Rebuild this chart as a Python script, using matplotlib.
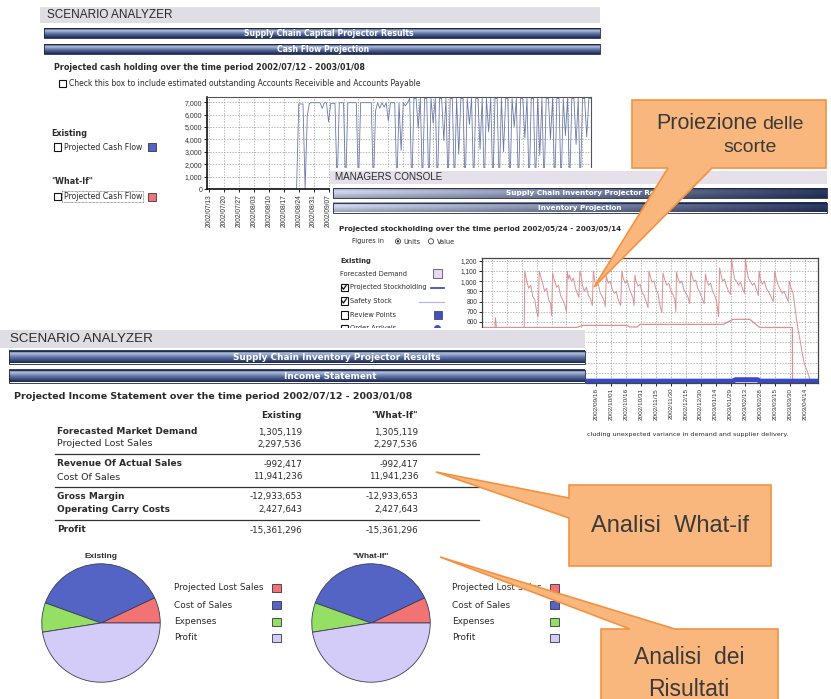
import numpy as np
import matplotlib.pyplot as plt
from matplotlib.patches import Rectangle, Polygon, Circle

W, H = 831, 699

# --- dati ---
# cash flow giornaliero dal 2002/07/12 (giorno 0)
cash_values = [0, 0, 0, 0, 0, 0, 0, 0, 0, 0, 0, 0, 0, 0, 0, 0, 0, 0, 0, 0,
               0, 0, 0, 0, 0, 0, 0, 0, 0, 0, 0, 0, 0, 0, 0, 0, 0, 0, 0, 0,
               0, 0, 0, 6850, 6850, 6850, 0, 5900, 6900, 6950, 6950, 6950, 6950, 6950, 6500, 6950,
               6950, 5400, 6900, 6900, 6900, 0, 6950, 6950, 6950, 0, 6950, 6950, 6950, 6950,
               6950, 0, 6950, 6950, 6950, 6950, 6950, 6950, 0, 6300, 6950, 6500, 6950, 6600,
               6950, 5500, 6950, 6950, 6950, 0, 6950, 3100, 6950, 6700, 6950, 7300, 0, 7300,
               7300, 4900, 7300, 0, 7300, 7300, 0, 7300, 5300, 7300, 0, 7300, 7300, 3900,
               7300, 0, 7300, 7300, 0, 7300, 2800, 7300, 7300, 0, 7300, 5200, 7300, 0,
               7300, 7300, 3200, 7300, 0, 7300, 4600, 7300, 0, 7300, 7300, 0, 7300, 3000,
               7300, 7300, 0, 7300, 5000, 7300, 0, 7300, 7300, 4100, 7300, 0, 7300, 7300,
               0, 7300, 2700, 7300, 0, 7300, 7300, 4000, 7300, 0, 7300, 7300, 0, 7300,
               4300, 7300, 0, 7300, 7300, 3600, 7300, 0, 7300, 7300, 4200, 7300, 7300]
# etichette visibili (le altre sono coperte dalla console)
cash_ticks = ['2002/07/13', '2002/07/20', '2002/07/27', '2002/08/03', '2002/08/10',
              '2002/08/17', '2002/08/24', '2002/08/31', '2002/09/07']

# scorte (giorno 0 = 2002/05/24)
stock_whatif = [
    (0, 545), (13, 545), (13.5, 640), (14.5, 545), (42.5, 545),
    (43, 1100), (45, 1000), (47, 930), (49, 960), (51, 850), (53, 820), (55, 700), (56.5, 650),
    (57.6, 1100), (59, 1050), (61, 980), (63, 900), (65, 930), (67, 820), (69, 780), (70, 660),
    (71, 1080), (73, 1000), (75, 940), (77, 960), (79, 860), (82, 800), (84, 740), (85, 700),
    (85.8, 1100), (87, 1020), (88, 1060), (90, 1000), (92, 1030), (94, 930), (96, 880), (97.5, 840),
    (98.5, 1100), (100, 1040), (101, 960), (103, 900), (105, 940), (107, 860), (109, 830), (111, 760),
    (112, 1100), (113.5, 1000), (115, 950), (117, 970), (119, 880), (121, 850), (123, 800), (124, 750),
    (125, 1050), (127, 980), (129, 1000), (131, 920), (133, 880), (135, 900), (137, 820), (139.5, 760),
    (140.7, 1100), (142, 1030), (144, 980), (146, 1010), (148, 930), (150, 880), (152, 830), (153, 760),
    (153.8, 1060), (155, 1000), (157, 950), (159, 970), (161, 890), (163, 860), (165, 800), (167, 740),
    (168, 1100), (169.5, 1040), (171, 990), (173, 1000), (175, 920), (177, 880), (179, 760), (181, 690),
    (182, 1080), (184, 1010), (186, 960), (188, 980), (190, 900), (192, 870), (194, 820), (195, 700),
    (195.7, 1090), (197, 1030), (199, 980), (201, 1000), (203, 920), (205, 880), (207, 850), (209, 780),
    (210, 1100), (211.5, 1040), (213, 1000), (215, 1010), (217, 930), (219, 890), (221, 840), (223.5, 780),
    (224.8, 1070), (226, 1010), (228, 960), (230, 980), (232, 900), (234, 860), (236, 800), (238, 650),
    (239, 1130), (240.5, 1060), (242, 1000), (244, 1020), (246, 950), (248, 900), (250, 870),
    (251, 1220), (252.5, 1120), (254, 1020), (256, 1000), (258, 960), (260, 990), (262, 930), (264, 880),
    (265, 1220), (266.5, 1110), (268, 1030), (270, 1000), (272, 960), (274, 980), (276, 920), (278, 860),
    (278.7, 1100), (280, 1020), (282, 970), (284, 1000), (286, 930), (288, 900), (290, 860), (293, 800),
    (294.5, 1100), (296, 1020), (298, 960), (300, 920), (302, 880), (304, 900), (306, 850), (308, 800),
    (309, 1000), (311, 930), (313, 880), (316, 650), (318, 520), (320, 420), (322, 300), (324, 200),
    (327, 120), (331, 0), (338, 0)]
safety_days = [0, 95, 101.7, 145, 149, 156, 159, 242.5, 252.6, 269.3, 279.4, 312.2, 312.4, 338]
safety_vals = [545, 545, 566, 566, 550, 550, 575, 575, 625, 625, 545, 545, 0, 0]
projected_days = [0, 252, 255, 277, 280, 338]
projected_vals = [18, 18, 32, 32, 18, 18]
# etichette visibili dell'asse x (dal 2002/09/16 = giorno 115)
stock_ticks = ['2002/09/16', '2002/10/01', '2002/10/16', '2002/10/31', '2002/11/15',
               '2002/11/30', '2002/12/15', '2002/12/30', '2003/01/14', '2003/01/29',
               '2003/02/13', '2003/02/28', '2003/03/15', '2003/03/30', '2003/04/14']

# conto economico
income_rows = ['Forecasted Market Demand', 'Projected Lost Sales', 'Revenue Of Actual Sales',
               'Cost Of Sales', 'Gross Margin', 'Operating Carry Costs', 'Profit']
income_bold = [True, False, True, False, True, True, True]
existing_vals = ['1,305,119', '2,297,536', '-992,417', '11,941,236', '-12,933,653',
                 '2,427,643', '-15,361,296']
whatif_vals = ['1,305,119', '2,297,536', '-992,417', '11,941,236', '-12,933,653',
               '2,427,643', '-15,361,296']

pie_labels = ['Projected Lost Sales', 'Cost of Sales', 'Expenses', 'Profit']
pie_existing = [7, 37.5, 8, 47.5]
pie_whatif = [7, 37.5, 8, 47.5]
pie_colors = ['#f27373', '#5464c4', '#95e064', '#d4ccf8']

BLUE = '#5464c4'
RED = '#f27373'
TXT = '#2a2a2a'

fig = plt.figure(figsize=(W / 100, H / 100), dpi=100)
fig.patch.set_facecolor('white')


def layer(z):
    ax = fig.add_axes([0, 0, 1, 1], zorder=z)
    ax.set_xlim(0, W)
    ax.set_ylim(H, 0)
    ax.set_autoscale_on(False)
    ax.axis('off')
    ax.patch.set_alpha(0)
    return ax


def box_axes(x0, y0, x1, y1, z):
    return fig.add_axes([x0 / W, 1 - y1 / H, (x1 - x0) / W, (y1 - y0) / H], zorder=z)


def txt(ax, x, y, s, size=5, bold=False, family='DejaVu Sans', color=TXT, **kw):
    kw.setdefault('va', 'center')
    ax.text(x, y, s, fontsize=size, fontweight='bold' if bold else 'normal',
            family=family, color=color, **kw)


def bar_v(ax, x0, x1, y0, y1, label, cx, size=4.8):
    # barra blu con sfumatura verticale
    stops = np.array([[0.15, 0.20, 0.36], [0.70, 0.75, 0.86], [0.42, 0.50, 0.68],
                      [0.25, 0.32, 0.52], [0.12, 0.16, 0.30]])
    t = np.linspace(0, 1, 30)
    p = np.linspace(0, 1, len(stops))
    g = np.stack([np.interp(t, p, stops[:, k]) for k in range(3)], axis=-1)[:, None, :]
    ax.imshow(g, extent=(x0, x1, y1, y0), aspect='auto', interpolation='bilinear', zorder=1)
    ax.add_patch(Rectangle((x0, y0), x1 - x0, y1 - y0, fill=False, ec='#1a2340', lw=0.6, zorder=2))
    txt(ax, cx, (y0 + y1) / 2, label, size=size, bold=True, color='white', ha='center', zorder=3)


def bar_h(ax, x0, x1, y0, y1, label, cx, size=4.8):
    # barra con sfumatura orizzontale (console)
    tx = np.linspace(0, 1, 60)
    left = np.array([0.80, 0.83, 0.92])
    right = np.array([0.16, 0.22, 0.38])
    row = left[None, :] * (1 - tx[:, None]) + right[None, :] * tx[:, None]
    fv = np.interp(np.linspace(0, 1, 16), [0, 0.35, 1], [0.8, 1.05, 0.78])
    g = np.clip(row[None, :, :] * fv[:, None, None], 0, 1)
    ax.imshow(g, extent=(x0, x1, y1, y0), aspect='auto', interpolation='bilinear', zorder=1)
    ax.add_patch(Rectangle((x0, y0), x1 - x0, y1 - y0, fill=False, ec='#1a2340', lw=0.6, zorder=2))
    txt(ax, cx, (y0 + y1) / 2, label, size=size, bold=True, color='white', ha='center', zorder=3)


def checkbox(ax, x, y, checked=False):
    ax.add_patch(Rectangle((x, y - 3.6), 7.2, 7.2, fc='white', ec='#111111', lw=0.8, zorder=3))
    if checked:
        ax.plot([x + 1.5, x + 3.0, x + 5.8], [y, y + 2.0, y - 2.2], color='#111111', lw=0.9, zorder=4)


def swatch(ax, x, y, color, s=8):
    ax.add_patch(Rectangle((x, y - s / 2), s, s, fc=color, ec='#333344', lw=0.6, zorder=3))


def grid_style(ax):
    ax.grid(True, which='both', color='#9a9a9a', lw=0.5, linestyle=(0, (2, 2)))
    ax.set_axisbelow(True)


# ===== pannello 1: cash flow =====
L0 = layer(0)
L0.add_patch(Rectangle((40, 7), 560, 16, fc='#dedee4', ec='none'))
txt(L0, 47, 15.5, 'SCENARIO ANALYZER', size=8.5, family='Liberation Sans')
bar_v(L0, 44, 600, 28, 38, 'Supply Chain Capital Projector Results', 329, size=5.6)
bar_v(L0, 44, 600, 44, 54, 'Cash Flow Projection', 323, size=5.6)
txt(L0, 54, 68, 'Projected cash holding over the time period 2002/07/12 - 2003/01/08', size=5.8, bold=True)
checkbox(L0, 58.5, 83.5)
txt(L0, 69, 83.5, 'Check this box to include estimated outstanding Accounts Receivible and Accounts Payable', size=5.5)
txt(L0, 51.5, 133.5, 'Existing', size=5.8, bold=True)
checkbox(L0, 53.5, 147)
txt(L0, 63.5, 147, 'Projected Cash Flow', size=5.6)
swatch(L0, 148, 147, BLUE)
txt(L0, 51.5, 182, '"What-If"', size=5.8, bold=True)
checkbox(L0, 53.5, 196.5)
txt(L0, 63.5, 196.5, 'Projected Cash Flow', size=5.6)
L0.add_patch(Rectangle((62, 191), 81, 11, fill=False, ec='#444444', lw=0.5, linestyle=(0, (1, 1))))
swatch(L0, 148, 196.5, RED)

axc = box_axes(207, 96.5, 591, 189, 1)
axc.plot(range(len(cash_values)), cash_values, color='#6a78a8', lw=0.6)
axc.set_xlim(0, 180)
axc.set_ylim(0, 7450)
axc.set_yticks(range(0, 7001, 1000))
axc.set_yticklabels([f'{v:,}' for v in range(0, 7001, 1000)], fontsize=5, family='Liberation Sans', color='#333333')
axc.set_xticks([1 + 7 * i for i in range(len(cash_ticks))])
axc.set_xticklabels(cash_ticks, rotation=90, fontsize=4.8, family='Liberation Sans', color='#333333')
axc.set_xticks(range(64, 180, 7), minor=True)
axc.tick_params(which='both', length=2, width=0.6, pad=1.5)
grid_style(axc)
for s in ['left', 'bottom']:
    axc.spines[s].set_linewidth(1.2)
    axc.spines[s].set_color('#111111')
for s in ['top', 'right']:
    axc.spines[s].set_linewidth(0.8)
    axc.spines[s].set_color('#555555')

# ===== pannello 2: managers console =====
L2 = layer(2)
L2.add_patch(Rectangle((330, 168), 501, 273, fc='white', ec='none'))
L2.add_patch(Rectangle((330, 171), 497, 12.5, fc='#e6e0ea', ec='none'))
txt(L2, 335, 177, 'MANAGERS CONSOLE', size=7.1, family='Liberation Sans')
bar_h(L2, 333, 827, 188, 198, 'Supply Chain Inventory Projector Results', 590, size=5.2)
bar_h(L2, 333, 827, 203, 212.5, 'Inventory Projection', 580, size=5.2)
txt(L2, 339, 229, 'Projected stockholding over the time period 2002/05/24 - 2003/05/14', size=5.2, bold=True)
txt(L2, 352, 241.5, 'Figures in', size=4.8)
L2.add_patch(Circle((398, 241.3), 2.6, fc='white', ec='#444444', lw=0.6))
L2.add_patch(Circle((398, 241.3), 1.2, fc='#222222', ec='none'))
txt(L2, 403, 241.5, 'Units', size=4.8)
L2.add_patch(Circle((431, 241.3), 2.6, fc='white', ec='#444444', lw=0.6))
txt(L2, 436.5, 241.5, 'Value', size=4.8)
txt(L2, 340, 260.5, 'Existing', size=4.9, bold=True)
txt(L2, 340, 273.5, 'Forecasted Demand', size=4.8)
L2.add_patch(Rectangle((433, 269), 8.5, 8.5, fc='#e8d8f4', ec='#555555', lw=0.6))
checkbox(L2, 340.5, 287.3, True)
txt(L2, 349.5, 287.3, 'Projected Stockholding', size=4.8)
L2.plot([431, 444], [288, 288], color='#4050c0', lw=1.3)
checkbox(L2, 340.5, 301, True)
txt(L2, 349.5, 301, 'Safety Stock', size=4.8)
L2.plot([419, 444], [301.5, 301.5], color='#b4b4e0', lw=0.8)
checkbox(L2, 340.5, 315, False)
txt(L2, 349.5, 315, 'Review Points', size=4.8)
L2.add_patch(Rectangle((434, 311), 7.5, 7.5, fc='#4050c0', ec='#303060', lw=0.5))
checkbox(L2, 340.5, 328.5, False)
txt(L2, 349.5, 328.5, 'Order Arrivals', size=4.8)
L2.add_patch(Circle((437.5, 328.5), 3.5, fc='#4050c0', ec='none'))
txt(L2, 587, 434.5, 'cluding unexpected variance in demand and supplier delivery.', size=4.6)

axs = box_axes(482, 258, 818, 383, 3)
sd, sv = zip(*stock_whatif)
axs.plot(sd, sv, color='#dc9090', lw=0.7)
axs.plot(safety_days, safety_vals, color='#dc9090', lw=0.9)
axs.plot(projected_days, projected_vals, color='#3848c8', lw=3.6, solid_capstyle='butt')
axs.set_xlim(0, 338)
axs.set_ylim(0, 1227)
axs.set_yticks(range(600, 1201, 100))
axs.set_yticklabels([f'{v:,}' for v in range(600, 1201, 100)], fontsize=4.8, family='Liberation Sans', color='#333333')
axs.set_yticks(range(0, 600, 100), minor=True)
axs.set_xticks([115 + 15 * i for i in range(len(stock_ticks))])
axs.set_xticklabels(stock_ticks, rotation=90, fontsize=4.6, family='Liberation Sans', color='#333333')
axs.set_xticks(range(10, 115, 15), minor=True)
axs.tick_params(which='both', length=2, width=0.6, pad=1.5)
grid_style(axs)
for s in axs.spines.values():
    s.set_linewidth(0.9)
    s.set_color('#444444')

# ===== pannello 3: conto economico =====
L4 = layer(4)
L4.add_patch(Rectangle((0, 328), 586, 371, fc='white', ec='none'))
L4.add_patch(Rectangle((0, 330), 585, 18, fc='#dedee4', ec='none'))
txt(L4, 10, 339, 'SCENARIO ANALYZER', size=9.6, family='Liberation Sans')
bar_v(L4, 9, 585, 351, 363.5, 'Supply Chain Inventory Projector Results', 337, size=6.4)
bar_v(L4, 9, 585, 370, 382.5, 'Income Statement', 330, size=6.4)
txt(L4, 14, 396.5, 'Projected Income Statement over the time period 2002/07/12 - 2003/01/08', size=6.8, bold=True)
txt(L4, 302, 415, 'Existing', size=6.4, bold=True, ha='right')
txt(L4, 418, 415, '"What-If"', size=6.4, bold=True, ha='right')
row_y = [432, 444, 464, 477, 496.5, 509.5, 530]
for yy, name, b, e, w in zip(row_y, income_rows, income_bold, existing_vals, whatif_vals):
    txt(L4, 57, yy, name, size=6.5 if b else 6.8, bold=b)
    txt(L4, 302, yy, e, size=6.3, ha='right')
    txt(L4, 418, yy, w, size=6.3, ha='right')
for yy in [454, 486.5, 520]:
    L4.plot([55, 479], [yy, yy], color='#333333', lw=0.9)

txt(L4, 101, 556.5, 'Existing', size=6, bold=True, family='Liberation Sans', ha='center')
txt(L4, 371, 556.5, '"What-If"', size=6, bold=True, family='Liberation Sans', ha='center')
leg_y = [588, 605, 622, 638]
for lx, sx in [(174, 272), (452, 550)]:
    for yy, lab, col in zip(leg_y, pie_labels, pie_colors):
        txt(L4, lx, yy, lab, size=6.4)
        swatch(L4, sx, yy, col, s=8.5)

for cx, vals in [(101, pie_existing), (371, pie_whatif)]:
    ap = box_axes(cx - 61, 623 - 61, cx + 61, 623 + 61, 5)
    ap.pie(vals, colors=pie_colors, startangle=0, counterclock=True,
           wedgeprops=dict(edgecolor='#3c3c55', linewidth=0.6))
    ap.set_xlim(-1.03, 1.03)
    ap.set_ylim(-1.03, 1.03)
    ap.axis('off')

# ===== callout =====
L6 = layer(6)
FILL, EDGE, CT = '#f9b77d', '#f39240', '#3a3a3a'
call1 = [(632, 100), (826, 100), (826, 168), (712, 168), (594, 287), (668, 168), (632, 168)]
call2 = [(569, 485), (771, 485), (771, 566), (569, 566), (569, 518), (436, 472), (569, 498)]
call3 = [(601, 629), (630, 629), (440, 557), (675, 629), (778, 629), (778, 712), (601, 712)]
for pts in [call1, call2, call3]:
    L6.add_patch(Polygon(pts, closed=True, fc=FILL, ec=EDGE, lw=1.2, joinstyle='miter'))
txt(L6, 757, 129, 'Proiezione', size=15.5, family='Liberation Sans', color=CT, ha='right', va='baseline')
txt(L6, 762, 129, 'delle', size=14, family='Liberation Sans', color=CT, ha='left', va='baseline')
txt(L6, 750, 148, 'scorte', size=14, family='Liberation Sans', color=CT, ha='center')
txt(L6, 670, 526, 'Analisi  What-if', size=17, family='Liberation Sans', color=CT, ha='center')
txt(L6, 689, 657, 'Analisi  dei', size=16.5, family='Liberation Sans', color=CT, ha='center')
txt(L6, 689, 689, 'Risultati', size=16.5, family='Liberation Sans', color=CT, ha='center')

for ax in [L0, L2, L4, L6]:
    ax.set_xlim(0, W)
    ax.set_ylim(H, 0)

fig.savefig('out.png', dpi=100)
